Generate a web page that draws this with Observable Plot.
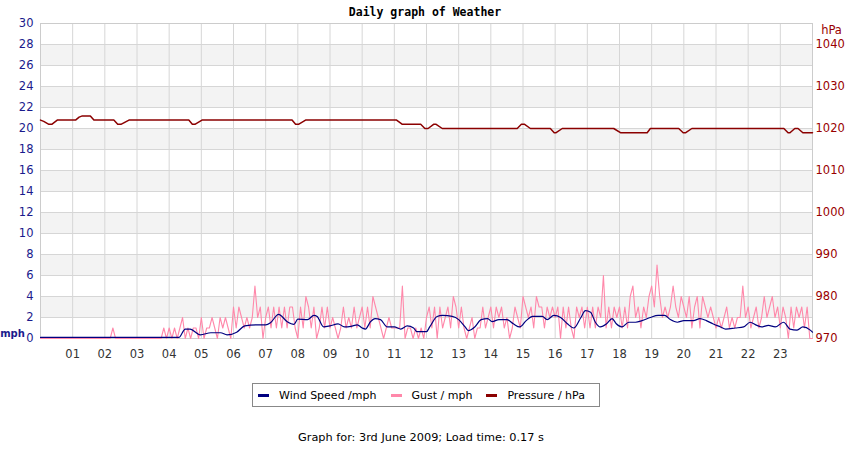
<!DOCTYPE html>
<html><head><meta charset="utf-8">
<script src="https://cdn.jsdelivr.net/npm/d3@7"></script>
<script src="https://cdn.jsdelivr.net/npm/@observablehq/plot@0.6"></script>
<style>
body{margin:0;background:#fff;font-family:"DejaVu Sans",sans-serif;width:850px;height:450px;position:relative;overflow:hidden;}
#title{position:absolute;left:0;top:5px;width:850px;text-align:center;font:bold 11.5px "DejaVu Sans Mono",monospace;color:#000;}
#chart{position:absolute;left:0;top:0;}
#legend{position:absolute;left:252px;top:383px;width:346px;height:22px;border:1px solid #888;display:flex;align-items:center;font-size:11px;color:#000;box-sizing:content-box;}
#legend .it{display:flex;align-items:center;margin-left:5px;margin-right:9px;}
#legend .sw{display:inline-block;width:11px;height:3px;margin-right:10px;}
#caption{position:absolute;left:0;top:431px;width:842px;text-align:center;font-size:11.3px;color:#000;}
</style></head><body>
<div id="chart"></div>
<div id="title">Daily graph of Weather</div>
<div id="legend"></div>
<div id="caption">Graph for: 3rd June 2009; Load time: 0.17 s</div>
<script>
// ---- data ----
const hourTicks = d3.range(1, 24);
const mphTicks = [0,2,4,6,8,10,12,14,16,18,20,22,24,26,28,30];
const hpaTicks = [970,980,990,1000,1010,1020,1030,1040];
const bandStarts = [2,6,10,14,18,22,26];

const seriesNames = ["Wind Speed /mph", "Gust / mph", "Pressure / hPa"];
const seriesColors = ["#000080", "#ff88aa", "#8b0000"];

// wind speed (mph) at given hours
const windHours = [0,4.3,4.5,4.65,4.97,5.3,5.6,5.8,6.1,6.35,6.7,7.0,7.15,7.4,7.67,7.88,8.0,8.3,8.5,8.6,8.8,9.0,9.25,9.45,9.65,9.85,10.0,10.1,10.26,10.4,10.57,10.78,11.0,11.2,11.4,11.6,11.7,12.0,12.1,12.33,12.5,12.8,13.0,13.2,13.3,13.5,13.7,13.9,14.04,14.25,14.5,14.7,14.9,15.1,15.3,15.6,15.75,15.96,16.17,16.38,16.58,16.8,16.94,17.1,17.25,17.4,17.6,17.77,17.9,18.07,18.29,18.5,18.7,18.96,19.2,19.4,19.58,19.8,20.0,20.3,20.5,20.7,20.9,21.14,21.3,21.6,21.86,22.06,22.27,22.42,22.63,22.84,23.1,23.3,23.52,23.7,23.93,24];
const windMph = [0.1,0.1,0.9,0.9,0.35,0.55,0.55,0.35,0.6,1.2,1.3,1.3,1.5,2.3,1.6,1.35,1.85,1.8,2.2,2.1,1.1,1.2,1.4,1.1,1.15,1.3,1.0,0.9,1.6,1.9,1.8,1.1,1.1,0.9,1.2,1.0,0.65,0.65,1.1,2.1,2.2,2.1,1.8,1.1,0.75,1.1,1.8,1.9,1.6,1.8,1.8,1.4,1.1,1.7,2.1,2.1,1.8,2.2,2.0,1.4,1.0,2.0,2.65,2.5,1.55,1.1,1.4,1.9,1.4,1.1,1.55,1.55,1.7,2.0,2.2,2.2,1.8,1.55,1.7,1.7,1.9,1.7,1.4,1.1,0.9,1.0,1.1,1.55,1.25,1.1,1.25,1.1,1.55,0.9,0.8,1.1,0.8,0.6];

// gust (mph), every 5 minutes, one row per hour
const gust5min = [
  0,0,0,0,0,0,0,0,0,0,0,0,
  0,0,0,0,0,0,0,0,0,0,0,0,
  0,0,0,1,0,0,0,0,0,0,0,0,
  0,0,0,0,0,0,0,0,0,0,1,0,
  1,0,1,0,1,2,0,1,0,1,1,0,
  2,0,1,1,2,1,0,2,1,2,1,0,
  3,1,3,2,1,2,1,2,5,2,3,0,
  2,3,1,3,1,3,1,3,1,3,3,1,
  0,3,1,4,3,1,3,0,1,3,1,3,
  1,2,1,0,1,3,1,2,1,3,1,2,
  3,1,3,1,4,3,2,1,0,1,2,1,
  1,1,1,5,0,1,1,0,1,0,1,0,
  2,3,1,3,0,3,1,2,3,1,4,3,
  1,3,1,0,1,2,0,1,1,3,1,2,
  3,1,3,2,3,1,2,0,1,3,2,1,
  4,3,2,3,1,4,3,3,1,3,2,3,
  2,3,0,3,1,3,1,0,3,2,3,1,
  3,1,3,1,3,2,6,1,3,1,3,2,
  3,1,3,1,4,5,2,3,1,3,2,4,
  5,3,7,4,2,3,2,3,5,3,2,4,
  3,2,4,1,3,4,1,4,3,2,3,2,
  1,2,1,2,3,1,2,1,2,2,5,2,
  3,1,2,3,1,2,4,2,3,4,2,3,
  1,3,2,0,3,1,3,2,3,1,3,0
];

// pressure (hPa) at given hours
const pressureHours = [0,0.1,0.26,0.35,0.52,1.09,1.2,1.3,1.55,1.66,2.28,2.4,2.5,2.75,4.61,4.72,4.8,5.02,7.82,7.93,8.02,8.24,11.07,11.25,11.82,11.95,12.05,12.22,12.3,12.49,14.82,14.95,15.05,15.23,15.85,15.97,16.03,16.22,17.82,18.03,18.86,18.96,19.84,19.98,20.06,20.25,23.11,23.24,23.3,23.45,23.55,23.7,24];
const pressureHpa = [1022,1021.7,1021,1021,1022,1022,1022.7,1023,1023,1022,1022,1021,1021,1022,1022,1021,1021,1022,1022,1021,1021,1022,1022,1021,1021,1020,1020,1021,1021,1020,1020,1021,1021,1020,1020,1019,1019,1020,1020,1019,1019,1020,1020,1019,1019,1020,1020,1019,1019,1020,1020,1019,1019];

// ---- tables ----
const hpaToMph = p => (p - 970) / 2.5;
const mphToHpa = m => 970 + m * 2.5;
const wind = windHours.map((h, i) => ({h, v: windMph[i]}));
const gust = gust5min.map((v, i) => ({h: i * 5 / 60, v}));
gust.push({h: 24, v: gust5min[gust5min.length - 1]});
const pressure = pressureHours.map((h, i) => ({h, p: pressureHpa[i]}));
const bands = bandStarts.map(s => ({y1: s, y2: s + 2}));

const chart = Plot.plot({
  width: 850,
  height: 368,
  marginTop: 23,
  marginBottom: 30,
  marginLeft: 40,
  marginRight: 38,
  style: {fontFamily: "DejaVu Sans", fontSize: "11px", background: "#fff"},
  x: {domain: [0, 24]},
  y: {domain: [0, 30]},
  marks: [
    Plot.rect(bands, {x1: 0, x2: 24, y1: "y1", y2: "y2", fill: "#f3f3f3"}),
    Plot.gridY({ticks: mphTicks, stroke: "#d6d6d6", strokeOpacity: 1}),
    Plot.gridX({ticks: d3.range(0, 25), stroke: "#d6d6d6", strokeOpacity: 1}),
    Plot.frame({stroke: "#cccccc"}),
    Plot.axisY({anchor: "left", ticks: mphTicks, tickSize: 0, tickPadding: 7, color: "#1a1a8c", fontSize: 11.5, label: null}),
    Plot.axisY({anchor: "right", ticks: hpaTicks.map(hpaToMph), tickFormat: d => String(mphToHpa(d)), tickSize: 0, tickPadding: 3, color: "#990000", fontSize: 11.5, label: null}),
    Plot.axisX({ticks: hourTicks, tickFormat: d => String(d).padStart(2, "0"), tickSize: 0, tickPadding: 11, color: "#333", fontSize: 11.5, label: null}),
    Plot.text(["mph"], {frameAnchor: "bottom-left", dx: -28, dy: -5, lineAnchor: "middle", text: d => d, fill: "#1a1a8c", fontWeight: "bold", fontSize: 10, textAnchor: "middle"}),
    Plot.text(["hPa"], {frameAnchor: "top-right", dx: 19, dy: 7, lineAnchor: "middle", text: d => d, fill: "#990000", fontSize: 11.5, textAnchor: "middle"}),
    Plot.line(pressure, {x: "h", y: d => hpaToMph(d.p), stroke: seriesColors[2], strokeWidth: 1.5}),
    Plot.line(gust, {x: "h", y: "v", stroke: seriesColors[1], strokeWidth: 1.1}),
    Plot.line(wind, {x: "h", y: "v", stroke: seriesColors[0], strokeWidth: 1.2, curve: "monotone-x"})
  ]
});
document.getElementById("chart").appendChild(chart);

const legend = document.getElementById("legend");
seriesNames.forEach((n, i) => {
  const it = document.createElement("span");
  it.className = "it";
  it.innerHTML = `<span class="sw" style="background:${seriesColors[i]}"></span>${n}`;
  legend.appendChild(it);
});
</script>
</body></html>
